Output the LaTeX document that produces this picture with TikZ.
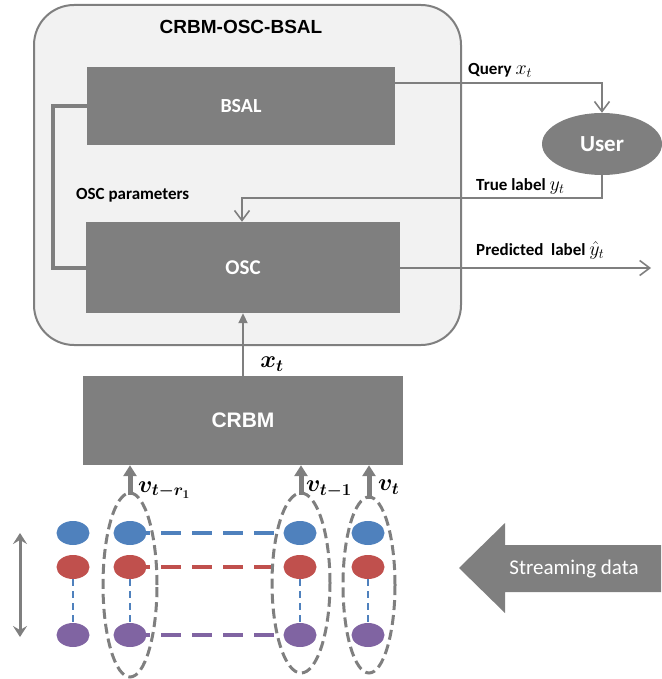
\RequirePackage{fix-cm}
\documentclass[tikz,border=0pt]{standalone}
\usepackage{amsmath,bm}
\usepackage{fontspec}
\setmainfont{Carlito}
\newfontfamily\arialfont{Liberation Sans}
\usetikzlibrary{arrows.meta,shapes.geometric,backgrounds}
\definecolor{boxgray}{HTML}{7F7F7F}
\definecolor{panel}{HTML}{F2F2F2}
\definecolor{dotblue}{HTML}{4F81BD}
\definecolor{dotred}{HTML}{C0504D}
\definecolor{dotpurple}{HTML}{8064A2}
% math symbols inside the side labels, set a little larger than the words
\newcommand{\lblmath}[1]{{\fontsize{20}{22}\selectfont$#1$}}
\begin{document}
\begin{tikzpicture}[x=1pt,y=-1pt,
  block/.style={rectangle, fill=boxgray, text=white, inner sep=0pt,
    font=\bfseries\fontsize{20}{24}\selectfont},
  lbl/.style={anchor=west, inner sep=0pt, font=\bfseries\fontsize{17}{20}\selectfont},
  mathlbl/.style={inner sep=0pt, font=\fontsize{24}{28}\selectfont},
  link/.style={draw=boxgray, line width=1.8pt,
    -{Straight Barb[length=10pt,width=15pt,line width=1.6pt]}},
  feed/.style={draw=boxgray, line width=4pt},
  uparrow/.style={draw=boxgray, line width=2pt,
    -{Triangle[length=10pt,width=9pt]}},
  varrow/.style={draw=boxgray, line width=5pt,
    -{Triangle[length=11pt,width=13pt]}},
  dot/.style={ellipse, minimum width=33pt, minimum height=24pt, inner sep=0pt},
  group/.style={ellipse, draw=boxgray, line width=3pt, dash pattern=on 10pt off 5pt,
    inner sep=0pt},
  hlink/.style={line width=4pt, dash pattern=on 20pt off 11pt},
  vlink/.style={draw=dotblue, line width=1.5pt, dash pattern=on 7pt off 5pt},
]
\useasboundingbox (0,0) rectangle (661,679);

% outer container
\draw[fill=panel, draw=boxgray, line width=2pt, rounded corners=40pt]
  (34,5) rectangle (461,345);
\node[font=\arialfont\bfseries\fontsize{19}{22}\selectfont] (title) at (241,27) {CRBM-OSC-BSAL};

% main blocks
\node[block, minimum width=308pt, minimum height=78pt] (bsal) at (241,106) {BSAL};
\node[block, minimum width=314pt, minimum height=91pt, font=\bfseries\fontsize{21}{24}\selectfont]
  (osc) at (243,267.5) {OSC};
\node[block, minimum width=320pt, minimum height=89pt,
  font=\arialfont\bfseries\fontsize{21}{24}\selectfont] (crbm) at (243,420.5) {CRBM};
\node[ellipse, fill=boxgray, text=white, minimum width=120pt, minimum height=62pt,
  inner sep=0pt, font=\bfseries\fontsize{23}{26}\selectfont] (user) at (602,144) {User};

% labels
\node[lbl] (qlbl) at (468,70) {Query \lblmath{x_t}};
\node[lbl] (tlbl) at (476,186) {True label \lblmath{y_t}};
\node[lbl] (plbl) at (476,250) {Predicted\ \ label \lblmath{\hat{y}_t}};
\node[lbl] (plbl2) at (76,195) {OSC parameters};

% query and feedback links
\draw[link] ([yshift=23pt]bsal.east) -| (user.north);
\coordinate (tl) at (0,198);
\draw[link] (user.south) -- (user.south |- tl) -| ([xshift=-1pt]osc.north);
\coordinate (pout) at (651,268);
\draw[link] (osc.east |- pout) -- (pout);
\draw[feed] (bsal.west) -- ++(-34,0) |- (osc.west);

% CRBM output to OSC
\draw[uparrow] (crbm.north) -- (osc.south);
\node[mathlbl] (xlbl) at (272,364) {$\bm{x_t}$};

% visible units
\foreach \c/\x in {0/73,1/130,2/300,3/368}{
  \node[dot, fill=dotblue] (b\c) at (\x,533) {};
  \node[dot, fill=dotred] (r\c) at (\x,567) {};
  \node[dot, fill=dotpurple] (p\c) at (\x,635) {};
  \draw[vlink] (r\c.south) -- (p\c.north);
}
\begin{pgfonlayer}{background}
  \draw[hlink, dotblue] (b1.center) -- (b2.center);
  \draw[hlink, dotred] (r1.center) -- (r2.center);
  \draw[hlink, dotpurple] (p1.center) -- (p2.center);
\end{pgfonlayer}

% time-slice groups
\node[group, minimum width=54pt, minimum height=184pt] (g1) at (130,585) {};
\node[group, minimum width=58pt, minimum height=180pt] (g2) at (301,583) {};
\node[group, minimum width=52pt, minimum height=176pt] (g3) at (369,585) {};

\draw[varrow] ([yshift=-3pt]g1.north) -- (g1.north |- crbm.south);
\draw[varrow] ([yshift=-3pt]g2.north) -- (g2.north |- crbm.south);
\draw[varrow] ([yshift=-3pt]g3.north) -- (g3.north |- crbm.south);

\node[mathlbl, anchor=west] (v1) at (138,490) {$\bm{v_{t-r_1}}$};
\node[mathlbl, anchor=west] (v2) at (306,489) {$\bm{v_{t-1}}$};
\node[mathlbl, anchor=west] (v3) at (378,487) {$\bm{v_t}$};

% dimension arrow
\coordinate (da) at (20,533);
\coordinate (db) at (20,637);
\draw[boxgray, line width=3pt,
  {Stealth[length=11pt,width=14pt,inset=4pt]}-{Stealth[length=11pt,width=14pt,inset=4pt]}]
  (da) -- (db);

% streaming data arrow
\fill[boxgray] (459,568) -- (505,523) -- (505,545) -- (661,545) -- (661,592)
  -- (505,592) -- (505,613) -- cycle;
\node[text=white, font=\fontsize{21}{24}\selectfont] (stream) at (574,569) {Streaming data};
\end{tikzpicture}
\end{document}
